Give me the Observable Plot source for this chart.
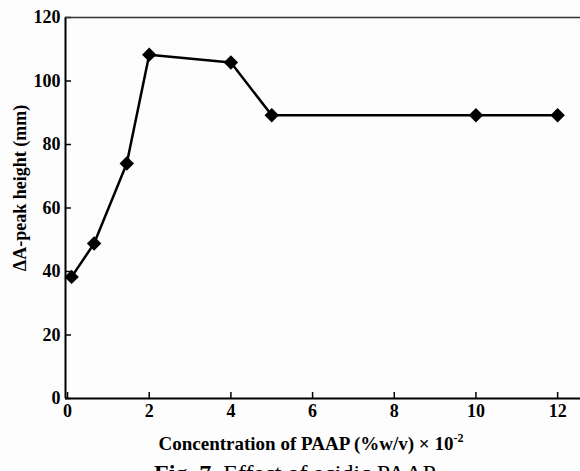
<!DOCTYPE html>
<html>
<head>
<meta charset="utf-8">
<script src="https://cdn.jsdelivr.net/npm/d3@7"></script>
<script src="https://cdn.jsdelivr.net/npm/@observablehq/plot@0.6"></script>
<style>
  html, body { margin: 0; padding: 0; background: #fdfdfd; overflow: hidden; }
  #chart svg { display: block; background: #fdfdfd; }
  #caption { font-family: "Liberation Serif", serif; font-size: 24px; line-height: 28px; text-align: center; width: 580px; margin-top: 3px; padding-left: 10px; box-sizing: border-box; white-space: nowrap; }
</style>
</head>
<body>
<div id="chart"></div>
<div id="caption"><b>Fig. 7.</b> Effect of acidic PAAP</div>
<script>
const concentration = [0.1, 0.65, 1.45, 2, 4, 5, 10, 12];
const peakHeight = [38.3, 48.8, 74, 108.3, 105.8, 89.2, 89.2, 89.2];
const xTicks = [0, 2, 4, 6, 8, 10, 12];
const yTicks = [0, 20, 40, 60, 80, 100, 120];

const data = concentration.map((c, i) => ({x: c, y: peakHeight[i]}));

const font = '"Liberation Serif", "Times New Roman", serif';

const plot = Plot.plot({
  width: 580,
  height: 456,
  marginLeft: 65,
  marginRight: 0,
  marginTop: 17,
  marginBottom: 58,
  style: {fontFamily: font, fontWeight: "bold", fontSize: "18px", color: "#000", background: "#fdfdfd"},
  x: {domain: [-0.05, 12.56], label: null},
  y: {domain: [0, 120], label: null},
  marks: [
    Plot.axisX({ticks: xTicks, tickSize: 0, tickPadding: 6, tickFormat: d => String(d), label: null, fontSize: 18}),
    Plot.axisX({ticks: xTicks, tickSize: -6, strokeWidth: 1.5, tickFormat: () => "", label: null}),
    Plot.axisY({ticks: yTicks, tickSize: 0, tickPadding: 5, tickFormat: d => String(d), label: null, fontSize: 18}),
    Plot.axisY({ticks: yTicks, tickSize: -6, strokeWidth: 1.5, tickFormat: () => "", label: null}),
    Plot.ruleX([-0.05], {stroke: "#000", strokeWidth: 2}),
    Plot.ruleY([0], {stroke: "#000", strokeWidth: 2}),
    Plot.ruleY([120], {stroke: "#333", strokeWidth: 1.5}),
    Plot.line(data, {x: "x", y: "y", stroke: "#000", strokeWidth: 2.5}),
    Plot.dot(data, {x: "x", y: "y", symbol: "diamond2", r: 6.5, fill: "#000", stroke: "none"})
  ]
});

const svg = d3.select(plot);
// X axis title with superscript
const xt = svg.append("text")
  .attr("x", 311).attr("y", 450)
  .attr("text-anchor", "middle")
  .attr("font-family", font).attr("font-weight", "bold").attr("font-size", 19)
  .attr("fill", "#000");
xt.append("tspan").text("Concentration of PAAP (%w/v) × 10");
xt.append("tspan").attr("dy", -8).attr("font-size", 12).text("-2");
// Y axis title
svg.append("text")
  .attr("transform", "translate(20,188) rotate(-90)")
  .attr("text-anchor", "middle")
  .attr("dy", "0.35em")
  .attr("font-family", font).attr("font-weight", "bold").attr("font-size", 18)
  .attr("fill", "#000")
  .text("ΔA-peak height (mm)");

document.getElementById("chart").appendChild(plot);
</script>
</body>
</html>
